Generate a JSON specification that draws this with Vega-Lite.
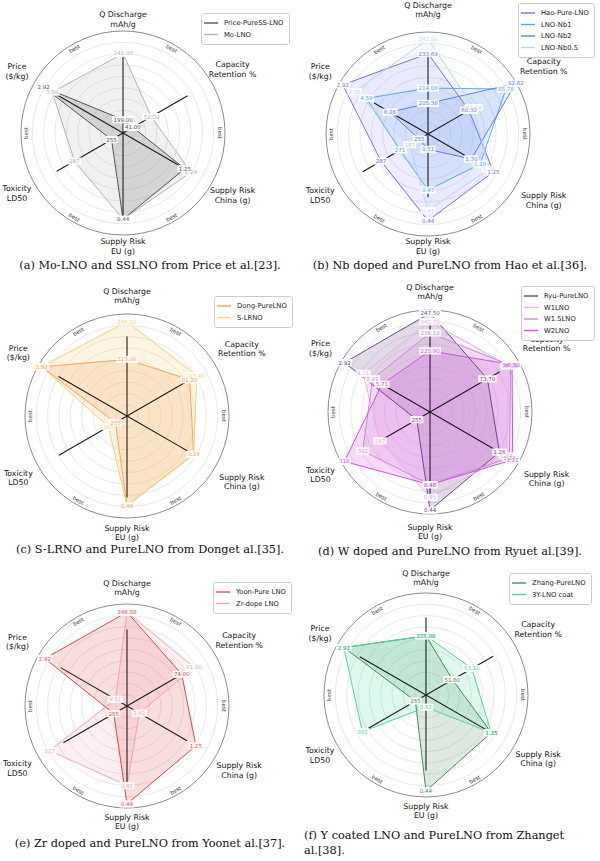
{
  "$schema": "https://vega.github.io/schema/vega-lite/v6.json",
  "background": "white",
  "padding": 0,
  "spacing": 11,
  "config": {
    "view": {"stroke": null},
    "text": {"font": "DejaVu Sans"},
    "title": {"font": "DejaVu Serif", "fontSize": 11.3, "fontWeight": "normal", "color": "#111111"},
    "legend": {"labelFont": "DejaVu Sans", "labelFontSize": 6.8, "labelColor": "#222222", "symbolType": "M-1.75,0H1.75", "symbolStrokeWidth": 1.4, "symbolSize": 64, "strokeColor": "#cccccc", "fillColor": "white", "padding": 5, "cornerRadius": 2, "rowPadding": 2.5, "labelOffset": 8}
  },
  "datasets": {
    "rings": [{"ring": 1}, {"ring": 2}, {"ring": 3}, {"ring": 4}, {"ring": 5}, {"ring": 6}, {"ring": 7}, {"ring": 8}],
    "outer": [{"ring": 9}],
    "bestpos": [{"pos": 30, "txt": "best"}, {"pos": 90, "txt": "best"}, {"pos": 150, "txt": "best"}, {"pos": 210, "txt": "best"}, {"pos": 270, "txt": "best"}, {"pos": 330, "txt": "best"}],
    "axes_a": [
      {"axis": "Q", "k": 0, "title": "Q Discharge\nmAh/g", "lo": 190.8, "hi": 253.9, "ref": 238.1},
      {"axis": "Cap", "k": 1, "title": "Capacity\nRetention %", "lo": 35.2, "hi": 87.6, "ref": 73.5},
      {"axis": "China", "k": 2, "title": "Supply Risk\nChina (g)", "lo": 1.35, "hi": 1.207, "ref": 1.25},
      {"axis": "EU", "k": 3, "title": "Supply Risk\nEU (g)", "lo": 0.55, "hi": 0.42, "ref": 0.443},
      {"axis": "Tox", "k": 4, "title": "Toxicity\nLD50", "lo": 245.1, "hi": 321.3, "ref": 302.3},
      {"axis": "Price", "k": 5, "title": "Price\n($/kg)", "lo": 9.04, "hi": 2.24, "ref": 3.94}
    ],
    "pts_a": [
      {"series": "Price-PureSS-LNO", "axis": "Q", "value": 199.0, "label": "199.00"},
      {"series": "Price-PureSS-LNO", "axis": "Cap", "value": 41.0, "label": "41.00"},
      {"series": "Price-PureSS-LNO", "axis": "China", "value": 1.25, "label": "1.25"},
      {"series": "Price-PureSS-LNO", "axis": "EU", "value": 0.44, "label": "0.44"},
      {"series": "Price-PureSS-LNO", "axis": "Tox", "value": 255, "label": "255"},
      {"series": "Price-PureSS-LNO", "axis": "Price", "value": 2.92, "label": "2.92"},
      {"series": "Mo-LNO", "axis": "Q", "value": 240.0, "label": "240.00"},
      {"series": "Mo-LNO", "axis": "Cap", "value": 52.0, "label": "52.00"},
      {"series": "Mo-LNO", "axis": "China", "value": 1.24, "label": "1.24"},
      {"series": "Mo-LNO", "axis": "EU", "value": 0.44, "label": "0.44"},
      {"series": "Mo-LNO", "axis": "Tox", "value": 287, "label": "287"},
      {"series": "Mo-LNO", "axis": "Price", "value": 3.60, "label": "3.60"}
    ],
    "axes_b": [
      {"axis": "Q", "k": 0, "title": "Q Discharge\nmAh/g", "lo": 188.0, "hi": 245.9, "ref": 233.7},
      {"axis": "Cap", "k": 1, "title": "Capacity\nRetention %", "lo": 32.0, "hi": 93.0, "ref": 57.0},
      {"axis": "China", "k": 2, "title": "Supply Risk\nChina (g)", "lo": 1.398, "hi": 1.198, "ref": 1.314},
      {"axis": "EU", "k": 3, "title": "Supply Risk\nEU (g)", "lo": 0.525, "hi": 0.425, "ref": 0.463},
      {"axis": "Tox", "k": 4, "title": "Toxicity\nLD50", "lo": 247.6, "hi": 321.7, "ref": 302.4},
      {"axis": "Price", "k": 5, "title": "Price\n($/kg)", "lo": 8.95, "hi": 2.70, "ref": 5.14}
    ],
    "pts_b": [
      {"series": "Hao-Pure-LNO", "axis": "Q", "value": 233.69, "label": "233.69"},
      {"series": "Hao-Pure-LNO", "axis": "Cap", "value": 60.30, "label": "60.30"},
      {"series": "Hao-Pure-LNO", "axis": "China", "value": 1.25, "label": "1.25"},
      {"series": "Hao-Pure-LNO", "axis": "EU", "value": 0.44, "label": "0.44"},
      {"series": "Hao-Pure-LNO", "axis": "Tox", "value": 287, "label": "287"},
      {"series": "Hao-Pure-LNO", "axis": "Price", "value": 2.92, "label": "2.92"},
      {"series": "LNO-Nb1", "axis": "Q", "value": 214.08, "label": "214.08"},
      {"series": "LNO-Nb1", "axis": "Cap", "value": 85.78, "label": "85.78"},
      {"series": "LNO-Nb1", "axis": "China", "value": 1.28, "label": "1.28"},
      {"series": "LNO-Nb1", "axis": "EU", "value": 0.47, "label": "0.47"},
      {"series": "LNO-Nb1", "axis": "Tox", "value": 271, "label": "271"},
      {"series": "LNO-Nb1", "axis": "Price", "value": 4.59, "label": "4.59"},
      {"series": "LNO-Nb2", "axis": "Q", "value": 205.38, "label": "205.38"},
      {"series": "LNO-Nb2", "axis": "Cap", "value": 92.62, "label": "92.62"},
      {"series": "LNO-Nb2", "axis": "China", "value": 1.30, "label": "1.30"},
      {"series": "LNO-Nb2", "axis": "EU", "value": 0.51, "label": "0.51"},
      {"series": "LNO-Nb2", "axis": "Tox", "value": 255, "label": "255"},
      {"series": "LNO-Nb2", "axis": "Price", "value": 6.26, "label": "6.26"},
      {"series": "LNO-Nb0.5", "axis": "Q", "value": 241.89, "label": "241.89"},
      {"series": "LNO-Nb0.5", "axis": "Cap", "value": 63.54, "label": "63.54"},
      {"series": "LNO-Nb0.5", "axis": "China", "value": 1.26, "label": "1.26"},
      {"series": "LNO-Nb0.5", "axis": "EU", "value": 0.45, "label": "0.45"},
      {"series": "LNO-Nb0.5", "axis": "Tox", "value": 263, "label": "263"},
      {"series": "LNO-Nb0.5", "axis": "Price", "value": 3.76, "label": "3.76"}
    ],
    "axes_c": [
      {"axis": "Q", "k": 0, "title": "Q Discharge\nmAh/g", "lo": 190.0, "hi": 249.5, "ref": 236.4},
      {"axis": "Cap", "k": 1, "title": "Capacity\nRetention %", "lo": 61.9, "hi": 89.1, "ref": 80.7},
      {"axis": "China", "k": 2, "title": "Supply Risk\nChina (g)", "lo": 1.40, "hi": 1.188, "ref": 1.254},
      {"axis": "EU", "k": 3, "title": "Supply Risk\nEU (g)", "lo": 0.55, "hi": 0.425, "ref": 0.45},
      {"axis": "Tox", "k": 4, "title": "Toxicity\nLD50", "lo": 245.2, "hi": 320.2, "ref": 303.0},
      {"axis": "Price", "k": 5, "title": "Price\n($/kg)", "lo": 8.95, "hi": 2.70, "ref": 4.11}
    ],
    "pts_c": [
      {"series": "Dong-PureLNO", "axis": "Q", "value": 223.0, "label": "223.00"},
      {"series": "Dong-PureLNO", "axis": "Cap", "value": 81.20, "label": "81.20"},
      {"series": "Dong-PureLNO", "axis": "China", "value": 1.24, "label": "1.24"},
      {"series": "Dong-PureLNO", "axis": "EU", "value": 0.44, "label": "0.44"},
      {"series": "Dong-PureLNO", "axis": "Tox", "value": 255, "label": "255"},
      {"series": "Dong-PureLNO", "axis": "Price", "value": 2.92, "label": "2.92"},
      {"series": "S-LRNO", "axis": "Q", "value": 245.0, "label": "245.00"},
      {"series": "S-LRNO", "axis": "Cap", "value": 83.40, "label": "83.40"},
      {"series": "S-LRNO", "axis": "China", "value": 1.24, "label": "1.24"},
      {"series": "S-LRNO", "axis": "EU", "value": 0.44, "label": "0.44"},
      {"series": "S-LRNO", "axis": "Tox", "value": 261, "label": "261"},
      {"series": "S-LRNO", "axis": "Price", "value": 2.90, "label": "2.90"}
    ],
    "axes_d": [
      {"axis": "Q", "k": 0, "title": "Q Discharge\nmAh/g", "lo": 190.9, "hi": 249.3, "ref": 240.5},
      {"axis": "Cap", "k": 1, "title": "Capacity\nRetention %", "lo": 23.1, "hi": 101.0, "ref": 84.6},
      {"axis": "China", "k": 2, "title": "Supply Risk\nChina (g)", "lo": 1.47, "hi": 1.203, "ref": 1.278},
      {"axis": "EU", "k": 3, "title": "Supply Risk\nEU (g)", "lo": 0.517, "hi": 0.437, "ref": 0.447},
      {"axis": "Tox", "k": 4, "title": "Toxicity\nLD50", "lo": 243.5, "hi": 320.3, "ref": 288.0},
      {"axis": "Price", "k": 5, "title": "Price\n($/kg)", "lo": 9.29, "hi": 2.71, "ref": 5.67}
    ],
    "pts_d": [
      {"series": "Ryu-PureLNO", "axis": "Q", "value": 247.50, "label": "247.50"},
      {"series": "Ryu-PureLNO", "axis": "Cap", "value": 73.70, "label": "73.70"},
      {"series": "Ryu-PureLNO", "axis": "China", "value": 1.26, "label": "1.26"},
      {"series": "Ryu-PureLNO", "axis": "EU", "value": 0.44, "label": "0.44"},
      {"series": "Ryu-PureLNO", "axis": "Tox", "value": 255, "label": "255"},
      {"series": "Ryu-PureLNO", "axis": "Price", "value": 2.92, "label": "2.92"},
      {"series": "W1LNO", "axis": "Q", "value": 242.70, "label": "242.70"},
      {"series": "W1LNO", "axis": "Cap", "value": 93.10, "label": "93.10"},
      {"series": "W1LNO", "axis": "China", "value": 1.24, "label": "1.24"},
      {"series": "W1LNO", "axis": "EU", "value": 0.45, "label": "0.45"},
      {"series": "W1LNO", "axis": "Tox", "value": 287, "label": "287"},
      {"series": "W1LNO", "axis": "Price", "value": 4.31, "label": "4.31"},
      {"series": "W1.5LNO", "axis": "Q", "value": 236.10, "label": "236.10"},
      {"series": "W1.5LNO", "axis": "Cap", "value": 94.30, "label": "94.30"},
      {"series": "W1.5LNO", "axis": "China", "value": 1.23, "label": "1.23"},
      {"series": "W1.5LNO", "axis": "EU", "value": 0.46, "label": "0.46"},
      {"series": "W1.5LNO", "axis": "Tox", "value": 302, "label": "302"},
      {"series": "W1.5LNO", "axis": "Price", "value": 5.01, "label": "5.01"},
      {"series": "W2LNO", "axis": "Q", "value": 225.90, "label": "225.90"},
      {"series": "W2LNO", "axis": "Cap", "value": 95.50, "label": "95.50"},
      {"series": "W2LNO", "axis": "China", "value": 1.22, "label": "1.22"},
      {"series": "W2LNO", "axis": "EU", "value": 0.46, "label": "0.46"},
      {"series": "W2LNO", "axis": "Tox", "value": 318, "label": "318"},
      {"series": "W2LNO", "axis": "Price", "value": 5.71, "label": "5.71"}
    ],
    "axes_e": [
      {"axis": "Q", "k": 0, "title": "Q Discharge\nmAh/g", "lo": 190.0, "hi": 251.4, "ref": 236.0},
      {"axis": "Cap", "k": 1, "title": "Capacity\nRetention %", "lo": 43.0, "hi": 93.0, "ref": 76.0},
      {"axis": "China", "k": 2, "title": "Supply Risk\nChina (g)", "lo": 1.445, "hi": 1.195, "ref": 1.275},
      {"axis": "EU", "k": 3, "title": "Supply Risk\nEU (g)", "lo": 0.4933, "hi": 0.4378, "ref": 0.45},
      {"axis": "Tox", "k": 4, "title": "Toxicity\nLD50", "lo": 242.2, "hi": 327.7, "ref": 303.8},
      {"axis": "Price", "k": 5, "title": "Price\n($/kg)", "lo": 10.12, "hi": 2.38, "ref": 4.3}
    ],
    "pts_e": [
      {"series": "Yoon-Pure LNO", "axis": "Q", "value": 246.50, "label": "246.50"},
      {"series": "Yoon-Pure LNO", "axis": "Cap", "value": 74.00, "label": "74.00"},
      {"series": "Yoon-Pure LNO", "axis": "China", "value": 1.25, "label": "1.25"},
      {"series": "Yoon-Pure LNO", "axis": "EU", "value": 0.44, "label": "0.44"},
      {"series": "Yoon-Pure LNO", "axis": "Tox", "value": 255, "label": "255"},
      {"series": "Yoon-Pure LNO", "axis": "Price", "value": 2.92, "label": "2.92"},
      {"series": "Zr-dope LNO", "axis": "Q", "value": 246.50, "label": "246.50"},
      {"series": "Zr-dope LNO", "axis": "Cap", "value": 81.00, "label": "81.00"},
      {"series": "Zr-dope LNO", "axis": "China", "value": 1.41, "label": "1.41"},
      {"series": "Zr-dope LNO", "axis": "EU", "value": 0.45, "label": "0.45"},
      {"series": "Zr-dope LNO", "axis": "Tox", "value": 317, "label": "317"},
      {"series": "Zr-dope LNO", "axis": "Price", "value": 9.11, "label": "9.11"}
    ],
    "axes_f": [
      {"axis": "Q", "k": 0, "title": "Q Discharge\nmAh/g", "lo": 190.0, "hi": 250.3, "ref": 235.8},
      {"axis": "Cap", "k": 1, "title": "Capacity\nRetention %", "lo": 36.4, "hi": 87.8, "ref": 75.5},
      {"axis": "China", "k": 2, "title": "Supply Risk\nChina (g)", "lo": 1.40, "hi": 1.197, "ref": 1.258},
      {"axis": "EU", "k": 3, "title": "Supply Risk\nEU (g)", "lo": 0.5317, "hi": 0.4342, "ref": 0.4596},
      {"axis": "Tox", "k": 4, "title": "Toxicity\nLD50", "lo": 245.8, "hi": 322.5, "ref": 295.7},
      {"axis": "Price", "k": 5, "title": "Price\n($/kg)", "lo": 9.0, "hi": 2.45, "ref": 4.09}
    ],
    "pts_f": [
      {"series": "Zhang-PureLNO", "axis": "Q", "value": 225.00, "label": "225.00"},
      {"series": "Zhang-PureLNO", "axis": "Cap", "value": 51.80, "label": "51.80"},
      {"series": "Zhang-PureLNO", "axis": "China", "value": 1.25, "label": "1.25"},
      {"series": "Zhang-PureLNO", "axis": "EU", "value": 0.44, "label": "0.44"},
      {"series": "Zhang-PureLNO", "axis": "Tox", "value": 255, "label": "255"},
      {"series": "Zhang-PureLNO", "axis": "Price", "value": 2.92, "label": "2.92"},
      {"series": "3Y-LNO coat", "axis": "Q", "value": 225.00, "label": "225.00"},
      {"series": "3Y-LNO coat", "axis": "Cap", "value": 63.10, "label": "63.10"},
      {"series": "3Y-LNO coat", "axis": "China", "value": 1.25, "label": "1.25"},
      {"series": "3Y-LNO coat", "axis": "EU", "value": 0.52, "label": "0.52"},
      {"series": "3Y-LNO coat", "axis": "Tox", "value": 301, "label": "301"},
      {"series": "3Y-LNO coat", "axis": "Price", "value": 2.91, "label": "2.91"}
    ]
  },
  "resolve": {"scale": {"color": "independent"}, "legend": {"color": "independent"}},
  "vconcat": [
    {
      "spacing": 0,
      "resolve": {"scale": {"color": "independent"}, "legend": {"color": "independent"}},
      "hconcat": [
        {
          "width": 300, "height": 255,
          "title": {"text": "(a) Mo-LNO and SSLNO from Price et al.[23].", "orient": "bottom", "anchor": "middle", "offset": 4},
          "layer": [
            {"data": {"name": "rings"}, "mark": {"type": "point", "shape": "circle", "filled": false, "color": "#dedede", "strokeWidth": 0.7, "opacity": 1},
             "encoding": {"x": {"datum": 0, "type": "quantitative", "scale": {"domain": [-1.206, 1.735], "nice": false, "zero": false}, "axis": null}, "y": {"datum": 0, "type": "quantitative", "scale": {"domain": [-1.196, 1.304], "nice": false, "zero": false}, "axis": null}, "size": {"field": "ring", "type": "quantitative", "scale": {"type": "pow", "exponent": 2, "domain": [0, 9], "range": [0, 41616]}, "legend": null}}},
            {"data": {"name": "outer"}, "mark": {"type": "point", "shape": "circle", "filled": false, "color": "#8c8c8c", "strokeWidth": 1, "opacity": 1},
             "encoding": {"x": {"datum": 0, "type": "quantitative", "scale": {"domain": [-1.206, 1.735], "nice": false, "zero": false}, "axis": null}, "y": {"datum": 0, "type": "quantitative", "scale": {"domain": [-1.196, 1.304], "nice": false, "zero": false}, "axis": null}, "size": {"field": "ring", "type": "quantitative", "scale": {"type": "pow", "exponent": 2, "domain": [0, 9], "range": [0, 41616]}, "legend": null}}},
            {"data": {"name": "pts_a"},
             "transform": [{"lookup": "axis", "from": {"data": {"name": "axes_a"}, "key": "axis", "fields": ["k", "lo", "hi"]}}, {"calculate": "(datum.value - datum.lo) / (datum.hi - datum.lo)", "as": "r"}, {"calculate": "datum.r * sin(datum.k * PI / 3)", "as": "px"}, {"calculate": "datum.r * cos(datum.k * PI / 3)", "as": "py"}],
             "mark": {"type": "line", "interpolate": "linear-closed", "filled": true, "fillOpacity": 0.2, "strokeWidth": 0},
             "encoding": {"x": {"field": "px", "type": "quantitative", "scale": {"domain": [-1.206, 1.735], "nice": false, "zero": false}, "axis": null}, "y": {"field": "py", "type": "quantitative", "scale": {"domain": [-1.196, 1.304], "nice": false, "zero": false}, "axis": null}, "order": {"field": "k", "type": "quantitative"}, "color": {"field": "series", "type": "nominal", "scale": {"domain": ["Price-PureSS-LNO", "Mo-LNO"], "range": ["#555555", "#b3b3b3"]}, "legend": {"title": null, "orient": "none", "legendX": 201, "legendY": 13}}}},
            {"data": {"name": "pts_a"},
             "transform": [{"lookup": "axis", "from": {"data": {"name": "axes_a"}, "key": "axis", "fields": ["k", "lo", "hi"]}}, {"calculate": "(datum.value - datum.lo) / (datum.hi - datum.lo)", "as": "r"}, {"calculate": "datum.r * sin(datum.k * PI / 3)", "as": "px"}, {"calculate": "datum.r * cos(datum.k * PI / 3)", "as": "py"}],
             "mark": {"type": "line", "interpolate": "linear-closed", "strokeWidth": 1},
             "encoding": {"x": {"field": "px", "type": "quantitative", "scale": {"domain": [-1.206, 1.735], "nice": false, "zero": false}, "axis": null}, "y": {"field": "py", "type": "quantitative", "scale": {"domain": [-1.196, 1.304], "nice": false, "zero": false}, "axis": null}, "order": {"field": "k", "type": "quantitative"}, "color": {"field": "series", "type": "nominal", "scale": {"domain": ["Price-PureSS-LNO", "Mo-LNO"], "range": ["#555555", "#b3b3b3"]}, "legend": {"title": null, "orient": "none", "legendX": 201, "legendY": 13}}}},
            {"data": {"name": "axes_a"},
             "transform": [{"calculate": "(datum.ref - datum.lo) / (datum.hi - datum.lo)", "as": "r"}, {"calculate": "datum.r * sin(datum.k * PI / 3)", "as": "ex"}, {"calculate": "datum.r * cos(datum.k * PI / 3)", "as": "ey"}, {"calculate": "0", "as": "o"}],
             "mark": {"type": "rule", "color": "#1e1e1e", "strokeWidth": 1.1},
             "encoding": {"x": {"field": "o", "type": "quantitative", "scale": {"domain": [-1.206, 1.735], "nice": false, "zero": false}, "axis": null}, "y": {"field": "o", "type": "quantitative", "scale": {"domain": [-1.196, 1.304], "nice": false, "zero": false}, "axis": null}, "x2": {"field": "ex"}, "y2": {"field": "ey"}}},
            {"data": {"name": "pts_a"},
             "transform": [{"lookup": "axis", "from": {"data": {"name": "axes_a"}, "key": "axis", "fields": ["k", "lo", "hi"]}}, {"calculate": "(datum.value - datum.lo) / (datum.hi - datum.lo)", "as": "r"}, {"calculate": "datum.r * sin(datum.k * PI / 3)", "as": "px"}, {"calculate": "datum.r * cos(datum.k * PI / 3)", "as": "py"}, {"calculate": "length(datum.label)", "as": "n"}],
             "mark": {"type": "point", "filled": true, "color": "white", "opacity": 0.92, "size": 256, "strokeWidth": 0},
             "encoding": {"x": {"field": "px", "type": "quantitative", "scale": {"domain": [-1.206, 1.735], "nice": false, "zero": false}, "axis": null}, "y": {"field": "py", "type": "quantitative", "scale": {"domain": [-1.196, 1.304], "nice": false, "zero": false}, "axis": null}, "shape": {"field": "n", "type": "nominal", "scale": {"domain": [3, 4, 5, 6], "range": ["M-0.82,-0.45H0.82V0.45H-0.82Z", "M-0.93,-0.45H0.93V0.45H-0.93Z", "M-1.15,-0.45H1.15V0.45H-1.15Z", "M-1.37,-0.45H1.37V0.45H-1.37Z"]}, "legend": null}}},
            {"data": {"name": "pts_a"},
             "transform": [{"lookup": "axis", "from": {"data": {"name": "axes_a"}, "key": "axis", "fields": ["k", "lo", "hi"]}}, {"calculate": "(datum.value - datum.lo) / (datum.hi - datum.lo)", "as": "r"}, {"calculate": "datum.r * sin(datum.k * PI / 3)", "as": "px"}, {"calculate": "datum.r * cos(datum.k * PI / 3)", "as": "py"}],
             "mark": {"type": "text", "fontSize": 5.5, "baseline": "middle", "align": "center"},
             "encoding": {"x": {"field": "px", "type": "quantitative", "scale": {"domain": [-1.206, 1.735], "nice": false, "zero": false}, "axis": null}, "y": {"field": "py", "type": "quantitative", "scale": {"domain": [-1.196, 1.304], "nice": false, "zero": false}, "axis": null}, "text": {"field": "label"}, "color": {"field": "series", "type": "nominal", "scale": {"domain": ["Price-PureSS-LNO", "Mo-LNO"], "range": ["#555555", "#b3b3b3"]}, "legend": {"title": null, "orient": "none", "legendX": 201, "legendY": 13}}}},
            {"data": {"name": "bestpos"},
             "transform": [{"calculate": "0.955 * sin(datum.pos * PI / 180)", "as": "bx"}, {"calculate": "0.955 * cos(datum.pos * PI / 180)", "as": "by"}, {"calculate": "datum.pos > 90 && datum.pos < 270 ? datum.pos - 180 : datum.pos", "as": "rot"}],
             "mark": {"type": "text", "fontSize": 5.5, "color": "#333333", "baseline": "middle", "align": "center"},
             "encoding": {"x": {"field": "bx", "type": "quantitative", "scale": {"domain": [-1.206, 1.735], "nice": false, "zero": false}, "axis": null}, "y": {"field": "by", "type": "quantitative", "scale": {"domain": [-1.196, 1.304], "nice": false, "zero": false}, "axis": null}, "text": {"field": "txt"}, "angle": {"field": "rot", "type": "quantitative", "scale": null}}},
            {"data": {"name": "axes_a"},
             "transform": [{"calculate": "datum.k == 0 ? 1.11 : (datum.k == 3 ? 1.12 : (datum.k < 3 ? 1.24 : 1.2))", "as": "rt"}, {"calculate": "datum.rt * sin(datum.k * PI / 3)", "as": "tx"}, {"calculate": "datum.rt * cos(datum.k * PI / 3)", "as": "ty"}],
             "mark": {"type": "text", "fontSize": 7.8, "lineBreak": "\n", "lineHeight": 9.5, "dy": -4.75, "baseline": "middle", "align": "center", "color": "#111111"},
             "encoding": {"x": {"field": "tx", "type": "quantitative", "scale": {"domain": [-1.206, 1.735], "nice": false, "zero": false}, "axis": null}, "y": {"field": "ty", "type": "quantitative", "scale": {"domain": [-1.196, 1.304], "nice": false, "zero": false}, "axis": null}, "text": {"field": "title"}}}
          ]
        },
        {
          "width": 300, "height": 255,
          "title": {"text": "(b) Nb doped and PureLNO from Hao et al.[36].", "orient": "bottom", "anchor": "middle", "offset": 4},
          "layer": [
            {"data": {"name": "rings"}, "mark": {"type": "point", "shape": "circle", "filled": false, "color": "#dedede", "strokeWidth": 0.7, "opacity": 1},
             "encoding": {"x": {"datum": 0, "type": "quantitative", "scale": {"domain": [-1.255, 1.686], "nice": false, "zero": false}, "axis": null}, "y": {"datum": 0, "type": "quantitative", "scale": {"domain": [-1.186, 1.314], "nice": false, "zero": false}, "axis": null}, "size": {"field": "ring", "type": "quantitative", "scale": {"type": "pow", "exponent": 2, "domain": [0, 9], "range": [0, 41616]}, "legend": null}}},
            {"data": {"name": "outer"}, "mark": {"type": "point", "shape": "circle", "filled": false, "color": "#8c8c8c", "strokeWidth": 1, "opacity": 1},
             "encoding": {"x": {"datum": 0, "type": "quantitative", "scale": {"domain": [-1.255, 1.686], "nice": false, "zero": false}, "axis": null}, "y": {"datum": 0, "type": "quantitative", "scale": {"domain": [-1.186, 1.314], "nice": false, "zero": false}, "axis": null}, "size": {"field": "ring", "type": "quantitative", "scale": {"type": "pow", "exponent": 2, "domain": [0, 9], "range": [0, 41616]}, "legend": null}}},
            {"data": {"name": "pts_b"},
             "transform": [{"lookup": "axis", "from": {"data": {"name": "axes_b"}, "key": "axis", "fields": ["k", "lo", "hi"]}}, {"calculate": "(datum.value - datum.lo) / (datum.hi - datum.lo)", "as": "r"}, {"calculate": "datum.r * sin(datum.k * PI / 3)", "as": "px"}, {"calculate": "datum.r * cos(datum.k * PI / 3)", "as": "py"}],
             "mark": {"type": "line", "interpolate": "linear-closed", "filled": true, "fillOpacity": 0.13, "strokeWidth": 0},
             "encoding": {"x": {"field": "px", "type": "quantitative", "scale": {"domain": [-1.255, 1.686], "nice": false, "zero": false}, "axis": null}, "y": {"field": "py", "type": "quantitative", "scale": {"domain": [-1.186, 1.314], "nice": false, "zero": false}, "axis": null}, "order": {"field": "k", "type": "quantitative"}, "color": {"field": "series", "type": "nominal", "scale": {"domain": ["Hao-Pure-LNO", "LNO-Nb1", "LNO-Nb2", "LNO-Nb0.5"], "range": ["#7b6cf0", "#58aaf5", "#5b7ef2", "#b9d7f5"]}, "legend": {"title": null, "orient": "none", "legendX": 218, "legendY": 3}}}},
            {"data": {"name": "pts_b"},
             "transform": [{"lookup": "axis", "from": {"data": {"name": "axes_b"}, "key": "axis", "fields": ["k", "lo", "hi"]}}, {"calculate": "(datum.value - datum.lo) / (datum.hi - datum.lo)", "as": "r"}, {"calculate": "datum.r * sin(datum.k * PI / 3)", "as": "px"}, {"calculate": "datum.r * cos(datum.k * PI / 3)", "as": "py"}],
             "mark": {"type": "line", "interpolate": "linear-closed", "strokeWidth": 1},
             "encoding": {"x": {"field": "px", "type": "quantitative", "scale": {"domain": [-1.255, 1.686], "nice": false, "zero": false}, "axis": null}, "y": {"field": "py", "type": "quantitative", "scale": {"domain": [-1.186, 1.314], "nice": false, "zero": false}, "axis": null}, "order": {"field": "k", "type": "quantitative"}, "color": {"field": "series", "type": "nominal", "scale": {"domain": ["Hao-Pure-LNO", "LNO-Nb1", "LNO-Nb2", "LNO-Nb0.5"], "range": ["#7b6cf0", "#58aaf5", "#5b7ef2", "#b9d7f5"]}, "legend": {"title": null, "orient": "none", "legendX": 218, "legendY": 3}}}},
            {"data": {"name": "axes_b"},
             "transform": [{"calculate": "(datum.ref - datum.lo) / (datum.hi - datum.lo)", "as": "r"}, {"calculate": "datum.r * sin(datum.k * PI / 3)", "as": "ex"}, {"calculate": "datum.r * cos(datum.k * PI / 3)", "as": "ey"}, {"calculate": "0", "as": "o"}],
             "mark": {"type": "rule", "color": "#1e1e1e", "strokeWidth": 1.1},
             "encoding": {"x": {"field": "o", "type": "quantitative", "scale": {"domain": [-1.255, 1.686], "nice": false, "zero": false}, "axis": null}, "y": {"field": "o", "type": "quantitative", "scale": {"domain": [-1.186, 1.314], "nice": false, "zero": false}, "axis": null}, "x2": {"field": "ex"}, "y2": {"field": "ey"}}},
            {"data": {"name": "pts_b"},
             "transform": [{"lookup": "axis", "from": {"data": {"name": "axes_b"}, "key": "axis", "fields": ["k", "lo", "hi"]}}, {"calculate": "(datum.value - datum.lo) / (datum.hi - datum.lo)", "as": "r"}, {"calculate": "datum.r * sin(datum.k * PI / 3)", "as": "px"}, {"calculate": "datum.r * cos(datum.k * PI / 3)", "as": "py"}, {"calculate": "length(datum.label)", "as": "n"}],
             "mark": {"type": "point", "filled": true, "color": "white", "opacity": 0.92, "size": 256, "strokeWidth": 0},
             "encoding": {"x": {"field": "px", "type": "quantitative", "scale": {"domain": [-1.255, 1.686], "nice": false, "zero": false}, "axis": null}, "y": {"field": "py", "type": "quantitative", "scale": {"domain": [-1.186, 1.314], "nice": false, "zero": false}, "axis": null}, "shape": {"field": "n", "type": "nominal", "scale": {"domain": [3, 4, 5, 6], "range": ["M-0.82,-0.45H0.82V0.45H-0.82Z", "M-0.93,-0.45H0.93V0.45H-0.93Z", "M-1.15,-0.45H1.15V0.45H-1.15Z", "M-1.37,-0.45H1.37V0.45H-1.37Z"]}, "legend": null}}},
            {"data": {"name": "pts_b"},
             "transform": [{"lookup": "axis", "from": {"data": {"name": "axes_b"}, "key": "axis", "fields": ["k", "lo", "hi"]}}, {"calculate": "(datum.value - datum.lo) / (datum.hi - datum.lo)", "as": "r"}, {"calculate": "datum.r * sin(datum.k * PI / 3)", "as": "px"}, {"calculate": "datum.r * cos(datum.k * PI / 3)", "as": "py"}],
             "mark": {"type": "text", "fontSize": 5.5, "baseline": "middle", "align": "center"},
             "encoding": {"x": {"field": "px", "type": "quantitative", "scale": {"domain": [-1.255, 1.686], "nice": false, "zero": false}, "axis": null}, "y": {"field": "py", "type": "quantitative", "scale": {"domain": [-1.186, 1.314], "nice": false, "zero": false}, "axis": null}, "text": {"field": "label"}, "color": {"field": "series", "type": "nominal", "scale": {"domain": ["Hao-Pure-LNO", "LNO-Nb1", "LNO-Nb2", "LNO-Nb0.5"], "range": ["#7b6cf0", "#58aaf5", "#5b7ef2", "#b9d7f5"]}, "legend": {"title": null, "orient": "none", "legendX": 218, "legendY": 3}}}},
            {"data": {"name": "bestpos"},
             "transform": [{"calculate": "0.955 * sin(datum.pos * PI / 180)", "as": "bx"}, {"calculate": "0.955 * cos(datum.pos * PI / 180)", "as": "by"}, {"calculate": "datum.pos > 90 && datum.pos < 270 ? datum.pos - 180 : datum.pos", "as": "rot"}],
             "mark": {"type": "text", "fontSize": 5.5, "color": "#333333", "baseline": "middle", "align": "center"},
             "encoding": {"x": {"field": "bx", "type": "quantitative", "scale": {"domain": [-1.255, 1.686], "nice": false, "zero": false}, "axis": null}, "y": {"field": "by", "type": "quantitative", "scale": {"domain": [-1.186, 1.314], "nice": false, "zero": false}, "axis": null}, "text": {"field": "txt"}, "angle": {"field": "rot", "type": "quantitative", "scale": null}}},
            {"data": {"name": "axes_b"},
             "transform": [{"calculate": "datum.k == 0 ? 1.21 : (datum.k == 3 ? 1.11 : (datum.k < 3 ? 1.31 : 1.22))", "as": "rt"}, {"calculate": "datum.rt * sin(datum.k * PI / 3)", "as": "tx"}, {"calculate": "datum.rt * cos(datum.k * PI / 3)", "as": "ty"}],
             "mark": {"type": "text", "fontSize": 7.8, "lineBreak": "\n", "lineHeight": 9.5, "dy": -4.75, "baseline": "middle", "align": "center", "color": "#111111"},
             "encoding": {"x": {"field": "tx", "type": "quantitative", "scale": {"domain": [-1.255, 1.686], "nice": false, "zero": false}, "axis": null}, "y": {"field": "ty", "type": "quantitative", "scale": {"domain": [-1.186, 1.314], "nice": false, "zero": false}, "axis": null}, "text": {"field": "title"}}}
          ]
        }
      ]
    },
    {
      "spacing": 0,
      "resolve": {"scale": {"color": "independent"}, "legend": {"color": "independent"}},
      "hconcat": [
        {
          "width": 300, "height": 255,
          "title": {"text": "(c) S-LRNO and PureLNO from Donget al.[35].", "orient": "bottom", "anchor": "middle", "offset": 2},
          "layer": [
            {"data": {"name": "rings"}, "mark": {"type": "point", "shape": "circle", "filled": false, "color": "#dedede", "strokeWidth": 0.7, "opacity": 1},
             "encoding": {"x": {"datum": 0, "type": "quantitative", "scale": {"domain": [-1.245, 1.696], "nice": false, "zero": false}, "axis": null}, "y": {"datum": 0, "type": "quantitative", "scale": {"domain": [-1.206, 1.294], "nice": false, "zero": false}, "axis": null}, "size": {"field": "ring", "type": "quantitative", "scale": {"type": "pow", "exponent": 2, "domain": [0, 9], "range": [0, 41616]}, "legend": null}}},
            {"data": {"name": "outer"}, "mark": {"type": "point", "shape": "circle", "filled": false, "color": "#8c8c8c", "strokeWidth": 1, "opacity": 1},
             "encoding": {"x": {"datum": 0, "type": "quantitative", "scale": {"domain": [-1.245, 1.696], "nice": false, "zero": false}, "axis": null}, "y": {"datum": 0, "type": "quantitative", "scale": {"domain": [-1.206, 1.294], "nice": false, "zero": false}, "axis": null}, "size": {"field": "ring", "type": "quantitative", "scale": {"type": "pow", "exponent": 2, "domain": [0, 9], "range": [0, 41616]}, "legend": null}}},
            {"data": {"name": "pts_c"},
             "transform": [{"lookup": "axis", "from": {"data": {"name": "axes_c"}, "key": "axis", "fields": ["k", "lo", "hi"]}}, {"calculate": "(datum.value - datum.lo) / (datum.hi - datum.lo)", "as": "r"}, {"calculate": "datum.r * sin(datum.k * PI / 3)", "as": "px"}, {"calculate": "datum.r * cos(datum.k * PI / 3)", "as": "py"}],
             "mark": {"type": "line", "interpolate": "linear-closed", "filled": true, "fillOpacity": 0.22, "strokeWidth": 0},
             "encoding": {"x": {"field": "px", "type": "quantitative", "scale": {"domain": [-1.245, 1.696], "nice": false, "zero": false}, "axis": null}, "y": {"field": "py", "type": "quantitative", "scale": {"domain": [-1.206, 1.294], "nice": false, "zero": false}, "axis": null}, "order": {"field": "k", "type": "quantitative"}, "color": {"field": "series", "type": "nominal", "scale": {"domain": ["Dong-PureLNO", "S-LRNO"], "range": ["#f5a25a", "#f4cf78"]}, "legend": {"title": null, "orient": "none", "legendX": 214, "legendY": 12}}}},
            {"data": {"name": "pts_c"},
             "transform": [{"lookup": "axis", "from": {"data": {"name": "axes_c"}, "key": "axis", "fields": ["k", "lo", "hi"]}}, {"calculate": "(datum.value - datum.lo) / (datum.hi - datum.lo)", "as": "r"}, {"calculate": "datum.r * sin(datum.k * PI / 3)", "as": "px"}, {"calculate": "datum.r * cos(datum.k * PI / 3)", "as": "py"}],
             "mark": {"type": "line", "interpolate": "linear-closed", "strokeWidth": 1},
             "encoding": {"x": {"field": "px", "type": "quantitative", "scale": {"domain": [-1.245, 1.696], "nice": false, "zero": false}, "axis": null}, "y": {"field": "py", "type": "quantitative", "scale": {"domain": [-1.206, 1.294], "nice": false, "zero": false}, "axis": null}, "order": {"field": "k", "type": "quantitative"}, "color": {"field": "series", "type": "nominal", "scale": {"domain": ["Dong-PureLNO", "S-LRNO"], "range": ["#f5a25a", "#f4cf78"]}, "legend": {"title": null, "orient": "none", "legendX": 214, "legendY": 12}}}},
            {"data": {"name": "axes_c"},
             "transform": [{"calculate": "(datum.ref - datum.lo) / (datum.hi - datum.lo)", "as": "r"}, {"calculate": "datum.r * sin(datum.k * PI / 3)", "as": "ex"}, {"calculate": "datum.r * cos(datum.k * PI / 3)", "as": "ey"}, {"calculate": "0", "as": "o"}],
             "mark": {"type": "rule", "color": "#1e1e1e", "strokeWidth": 1.1},
             "encoding": {"x": {"field": "o", "type": "quantitative", "scale": {"domain": [-1.245, 1.696], "nice": false, "zero": false}, "axis": null}, "y": {"field": "o", "type": "quantitative", "scale": {"domain": [-1.206, 1.294], "nice": false, "zero": false}, "axis": null}, "x2": {"field": "ex"}, "y2": {"field": "ey"}}},
            {"data": {"name": "pts_c"},
             "transform": [{"lookup": "axis", "from": {"data": {"name": "axes_c"}, "key": "axis", "fields": ["k", "lo", "hi"]}}, {"calculate": "(datum.value - datum.lo) / (datum.hi - datum.lo)", "as": "r"}, {"calculate": "datum.r * sin(datum.k * PI / 3)", "as": "px"}, {"calculate": "datum.r * cos(datum.k * PI / 3)", "as": "py"}, {"calculate": "length(datum.label)", "as": "n"}],
             "mark": {"type": "point", "filled": true, "color": "white", "opacity": 0.92, "size": 256, "strokeWidth": 0},
             "encoding": {"x": {"field": "px", "type": "quantitative", "scale": {"domain": [-1.245, 1.696], "nice": false, "zero": false}, "axis": null}, "y": {"field": "py", "type": "quantitative", "scale": {"domain": [-1.206, 1.294], "nice": false, "zero": false}, "axis": null}, "shape": {"field": "n", "type": "nominal", "scale": {"domain": [3, 4, 5, 6], "range": ["M-0.82,-0.45H0.82V0.45H-0.82Z", "M-0.93,-0.45H0.93V0.45H-0.93Z", "M-1.15,-0.45H1.15V0.45H-1.15Z", "M-1.37,-0.45H1.37V0.45H-1.37Z"]}, "legend": null}}},
            {"data": {"name": "pts_c"},
             "transform": [{"lookup": "axis", "from": {"data": {"name": "axes_c"}, "key": "axis", "fields": ["k", "lo", "hi"]}}, {"calculate": "(datum.value - datum.lo) / (datum.hi - datum.lo)", "as": "r"}, {"calculate": "datum.r * sin(datum.k * PI / 3)", "as": "px"}, {"calculate": "datum.r * cos(datum.k * PI / 3)", "as": "py"}],
             "mark": {"type": "text", "fontSize": 5.5, "baseline": "middle", "align": "center"},
             "encoding": {"x": {"field": "px", "type": "quantitative", "scale": {"domain": [-1.245, 1.696], "nice": false, "zero": false}, "axis": null}, "y": {"field": "py", "type": "quantitative", "scale": {"domain": [-1.206, 1.294], "nice": false, "zero": false}, "axis": null}, "text": {"field": "label"}, "color": {"field": "series", "type": "nominal", "scale": {"domain": ["Dong-PureLNO", "S-LRNO"], "range": ["#f5a25a", "#f4cf78"]}, "legend": {"title": null, "orient": "none", "legendX": 214, "legendY": 12}}}},
            {"data": {"name": "bestpos"},
             "transform": [{"calculate": "0.955 * sin(datum.pos * PI / 180)", "as": "bx"}, {"calculate": "0.955 * cos(datum.pos * PI / 180)", "as": "by"}, {"calculate": "datum.pos > 90 && datum.pos < 270 ? datum.pos - 180 : datum.pos", "as": "rot"}],
             "mark": {"type": "text", "fontSize": 5.5, "color": "#333333", "baseline": "middle", "align": "center"},
             "encoding": {"x": {"field": "bx", "type": "quantitative", "scale": {"domain": [-1.245, 1.696], "nice": false, "zero": false}, "axis": null}, "y": {"field": "by", "type": "quantitative", "scale": {"domain": [-1.206, 1.294], "nice": false, "zero": false}, "axis": null}, "text": {"field": "txt"}, "angle": {"field": "rot", "type": "quantitative", "scale": null}}},
            {"data": {"name": "axes_c"},
             "transform": [{"calculate": "datum.k == 0 ? 1.17 : (datum.k == 3 ? 1.15 : (datum.k < 3 ? 1.3 : 1.23))", "as": "rt"}, {"calculate": "datum.rt * sin(datum.k * PI / 3)", "as": "tx"}, {"calculate": "datum.rt * cos(datum.k * PI / 3)", "as": "ty"}],
             "mark": {"type": "text", "fontSize": 7.8, "lineBreak": "\n", "lineHeight": 9.5, "dy": -4.75, "baseline": "middle", "align": "center", "color": "#111111"},
             "encoding": {"x": {"field": "tx", "type": "quantitative", "scale": {"domain": [-1.245, 1.696], "nice": false, "zero": false}, "axis": null}, "y": {"field": "ty", "type": "quantitative", "scale": {"domain": [-1.206, 1.294], "nice": false, "zero": false}, "axis": null}, "text": {"field": "title"}}}
          ]
        },
        {
          "width": 300, "height": 255,
          "title": {"text": "(d) W doped and PureLNO from Ryuet al.[39].", "orient": "bottom", "anchor": "middle", "offset": 5},
          "layer": [
            {"data": {"name": "rings"}, "mark": {"type": "point", "shape": "circle", "filled": false, "color": "#dedede", "strokeWidth": 0.7, "opacity": 1},
             "encoding": {"x": {"datum": 0, "type": "quantitative", "scale": {"domain": [-1.275, 1.667], "nice": false, "zero": false}, "axis": null}, "y": {"datum": 0, "type": "quantitative", "scale": {"domain": [-1.245, 1.255], "nice": false, "zero": false}, "axis": null}, "size": {"field": "ring", "type": "quantitative", "scale": {"type": "pow", "exponent": 2, "domain": [0, 9], "range": [0, 41616]}, "legend": null}}},
            {"data": {"name": "outer"}, "mark": {"type": "point", "shape": "circle", "filled": false, "color": "#8c8c8c", "strokeWidth": 1, "opacity": 1},
             "encoding": {"x": {"datum": 0, "type": "quantitative", "scale": {"domain": [-1.275, 1.667], "nice": false, "zero": false}, "axis": null}, "y": {"datum": 0, "type": "quantitative", "scale": {"domain": [-1.245, 1.255], "nice": false, "zero": false}, "axis": null}, "size": {"field": "ring", "type": "quantitative", "scale": {"type": "pow", "exponent": 2, "domain": [0, 9], "range": [0, 41616]}, "legend": null}}},
            {"data": {"name": "pts_d"},
             "transform": [{"lookup": "axis", "from": {"data": {"name": "axes_d"}, "key": "axis", "fields": ["k", "lo", "hi"]}}, {"calculate": "(datum.value - datum.lo) / (datum.hi - datum.lo)", "as": "r"}, {"calculate": "datum.r * sin(datum.k * PI / 3)", "as": "px"}, {"calculate": "datum.r * cos(datum.k * PI / 3)", "as": "py"}],
             "mark": {"type": "line", "interpolate": "linear-closed", "filled": true, "fillOpacity": 0.2, "strokeWidth": 0},
             "encoding": {"x": {"field": "px", "type": "quantitative", "scale": {"domain": [-1.275, 1.667], "nice": false, "zero": false}, "axis": null}, "y": {"field": "py", "type": "quantitative", "scale": {"domain": [-1.245, 1.255], "nice": false, "zero": false}, "axis": null}, "order": {"field": "k", "type": "quantitative"}, "color": {"field": "series", "type": "nominal", "scale": {"domain": ["Ryu-PureLNO", "W1LNO", "W1.5LNO", "W2LNO"], "range": ["#6b4a8c", "#e6b3e6", "#c98bd4", "#d64fe8"]}, "legend": {"title": null, "orient": "none", "legendX": 221, "legendY": 2}}}},
            {"data": {"name": "pts_d"},
             "transform": [{"lookup": "axis", "from": {"data": {"name": "axes_d"}, "key": "axis", "fields": ["k", "lo", "hi"]}}, {"calculate": "(datum.value - datum.lo) / (datum.hi - datum.lo)", "as": "r"}, {"calculate": "datum.r * sin(datum.k * PI / 3)", "as": "px"}, {"calculate": "datum.r * cos(datum.k * PI / 3)", "as": "py"}],
             "mark": {"type": "line", "interpolate": "linear-closed", "strokeWidth": 1},
             "encoding": {"x": {"field": "px", "type": "quantitative", "scale": {"domain": [-1.275, 1.667], "nice": false, "zero": false}, "axis": null}, "y": {"field": "py", "type": "quantitative", "scale": {"domain": [-1.245, 1.255], "nice": false, "zero": false}, "axis": null}, "order": {"field": "k", "type": "quantitative"}, "color": {"field": "series", "type": "nominal", "scale": {"domain": ["Ryu-PureLNO", "W1LNO", "W1.5LNO", "W2LNO"], "range": ["#6b4a8c", "#e6b3e6", "#c98bd4", "#d64fe8"]}, "legend": {"title": null, "orient": "none", "legendX": 221, "legendY": 2}}}},
            {"data": {"name": "axes_d"},
             "transform": [{"calculate": "(datum.ref - datum.lo) / (datum.hi - datum.lo)", "as": "r"}, {"calculate": "datum.r * sin(datum.k * PI / 3)", "as": "ex"}, {"calculate": "datum.r * cos(datum.k * PI / 3)", "as": "ey"}, {"calculate": "0", "as": "o"}],
             "mark": {"type": "rule", "color": "#1e1e1e", "strokeWidth": 1.1},
             "encoding": {"x": {"field": "o", "type": "quantitative", "scale": {"domain": [-1.275, 1.667], "nice": false, "zero": false}, "axis": null}, "y": {"field": "o", "type": "quantitative", "scale": {"domain": [-1.245, 1.255], "nice": false, "zero": false}, "axis": null}, "x2": {"field": "ex"}, "y2": {"field": "ey"}}},
            {"data": {"name": "pts_d"},
             "transform": [{"lookup": "axis", "from": {"data": {"name": "axes_d"}, "key": "axis", "fields": ["k", "lo", "hi"]}}, {"calculate": "(datum.value - datum.lo) / (datum.hi - datum.lo)", "as": "r"}, {"calculate": "datum.r * sin(datum.k * PI / 3)", "as": "px"}, {"calculate": "datum.r * cos(datum.k * PI / 3)", "as": "py"}, {"calculate": "length(datum.label)", "as": "n"}],
             "mark": {"type": "point", "filled": true, "color": "white", "opacity": 0.92, "size": 256, "strokeWidth": 0},
             "encoding": {"x": {"field": "px", "type": "quantitative", "scale": {"domain": [-1.275, 1.667], "nice": false, "zero": false}, "axis": null}, "y": {"field": "py", "type": "quantitative", "scale": {"domain": [-1.245, 1.255], "nice": false, "zero": false}, "axis": null}, "shape": {"field": "n", "type": "nominal", "scale": {"domain": [3, 4, 5, 6], "range": ["M-0.82,-0.45H0.82V0.45H-0.82Z", "M-0.93,-0.45H0.93V0.45H-0.93Z", "M-1.15,-0.45H1.15V0.45H-1.15Z", "M-1.37,-0.45H1.37V0.45H-1.37Z"]}, "legend": null}}},
            {"data": {"name": "pts_d"},
             "transform": [{"lookup": "axis", "from": {"data": {"name": "axes_d"}, "key": "axis", "fields": ["k", "lo", "hi"]}}, {"calculate": "(datum.value - datum.lo) / (datum.hi - datum.lo)", "as": "r"}, {"calculate": "datum.r * sin(datum.k * PI / 3)", "as": "px"}, {"calculate": "datum.r * cos(datum.k * PI / 3)", "as": "py"}],
             "mark": {"type": "text", "fontSize": 5.5, "baseline": "middle", "align": "center"},
             "encoding": {"x": {"field": "px", "type": "quantitative", "scale": {"domain": [-1.275, 1.667], "nice": false, "zero": false}, "axis": null}, "y": {"field": "py", "type": "quantitative", "scale": {"domain": [-1.245, 1.255], "nice": false, "zero": false}, "axis": null}, "text": {"field": "label"}, "color": {"field": "series", "type": "nominal", "scale": {"domain": ["Ryu-PureLNO", "W1LNO", "W1.5LNO", "W2LNO"], "range": ["#6b4a8c", "#e6b3e6", "#c98bd4", "#d64fe8"]}, "legend": {"title": null, "orient": "none", "legendX": 221, "legendY": 2}}}},
            {"data": {"name": "bestpos"},
             "transform": [{"calculate": "0.955 * sin(datum.pos * PI / 180)", "as": "bx"}, {"calculate": "0.955 * cos(datum.pos * PI / 180)", "as": "by"}, {"calculate": "datum.pos > 90 && datum.pos < 270 ? datum.pos - 180 : datum.pos", "as": "rot"}],
             "mark": {"type": "text", "fontSize": 5.5, "color": "#333333", "baseline": "middle", "align": "center"},
             "encoding": {"x": {"field": "bx", "type": "quantitative", "scale": {"domain": [-1.275, 1.667], "nice": false, "zero": false}, "axis": null}, "y": {"field": "by", "type": "quantitative", "scale": {"domain": [-1.245, 1.255], "nice": false, "zero": false}, "axis": null}, "text": {"field": "txt"}, "angle": {"field": "rot", "type": "quantitative", "scale": null}}},
            {"data": {"name": "axes_d"},
             "transform": [{"calculate": "datum.k == 0 ? 1.17 : (datum.k == 3 ? 1.18 : (datum.k < 3 ? 1.32 : 1.24))", "as": "rt"}, {"calculate": "datum.rt * sin(datum.k * PI / 3)", "as": "tx"}, {"calculate": "datum.rt * cos(datum.k * PI / 3)", "as": "ty"}],
             "mark": {"type": "text", "fontSize": 7.8, "lineBreak": "\n", "lineHeight": 9.5, "dy": -4.75, "baseline": "middle", "align": "center", "color": "#111111"},
             "encoding": {"x": {"field": "tx", "type": "quantitative", "scale": {"domain": [-1.275, 1.667], "nice": false, "zero": false}, "axis": null}, "y": {"field": "ty", "type": "quantitative", "scale": {"domain": [-1.245, 1.255], "nice": false, "zero": false}, "axis": null}, "text": {"field": "title"}}}
          ]
        }
      ]
    },
    {
      "spacing": 0,
      "resolve": {"scale": {"color": "independent"}, "legend": {"color": "independent"}},
      "hconcat": [
        {
          "width": 300, "height": 255,
          "title": {"text": "(e) Zr doped and PureLNO from Yoonet al.[37].", "orient": "bottom", "anchor": "middle", "offset": 7},
          "layer": [
            {"data": {"name": "rings"}, "mark": {"type": "point", "shape": "circle", "filled": false, "color": "#dedede", "strokeWidth": 0.7, "opacity": 1},
             "encoding": {"x": {"datum": 0, "type": "quantitative", "scale": {"domain": [-1.245, 1.696], "nice": false, "zero": false}, "axis": null}, "y": {"datum": 0, "type": "quantitative", "scale": {"domain": [-1.157, 1.343], "nice": false, "zero": false}, "axis": null}, "size": {"field": "ring", "type": "quantitative", "scale": {"type": "pow", "exponent": 2, "domain": [0, 9], "range": [0, 41616]}, "legend": null}}},
            {"data": {"name": "outer"}, "mark": {"type": "point", "shape": "circle", "filled": false, "color": "#8c8c8c", "strokeWidth": 1, "opacity": 1},
             "encoding": {"x": {"datum": 0, "type": "quantitative", "scale": {"domain": [-1.245, 1.696], "nice": false, "zero": false}, "axis": null}, "y": {"datum": 0, "type": "quantitative", "scale": {"domain": [-1.157, 1.343], "nice": false, "zero": false}, "axis": null}, "size": {"field": "ring", "type": "quantitative", "scale": {"type": "pow", "exponent": 2, "domain": [0, 9], "range": [0, 41616]}, "legend": null}}},
            {"data": {"name": "pts_e"},
             "transform": [{"lookup": "axis", "from": {"data": {"name": "axes_e"}, "key": "axis", "fields": ["k", "lo", "hi"]}}, {"calculate": "(datum.value - datum.lo) / (datum.hi - datum.lo)", "as": "r"}, {"calculate": "datum.r * sin(datum.k * PI / 3)", "as": "px"}, {"calculate": "datum.r * cos(datum.k * PI / 3)", "as": "py"}],
             "mark": {"type": "line", "interpolate": "linear-closed", "filled": true, "fillOpacity": 0.18, "strokeWidth": 0},
             "encoding": {"x": {"field": "px", "type": "quantitative", "scale": {"domain": [-1.245, 1.696], "nice": false, "zero": false}, "axis": null}, "y": {"field": "py", "type": "quantitative", "scale": {"domain": [-1.157, 1.343], "nice": false, "zero": false}, "axis": null}, "order": {"field": "k", "type": "quantitative"}, "color": {"field": "series", "type": "nominal", "scale": {"domain": ["Yoon-Pure LNO", "Zr-dope LNO"], "range": ["#e04848", "#f2a3b3"]}, "legend": {"title": null, "orient": "none", "legendX": 213, "legendY": 13}}}},
            {"data": {"name": "pts_e"},
             "transform": [{"lookup": "axis", "from": {"data": {"name": "axes_e"}, "key": "axis", "fields": ["k", "lo", "hi"]}}, {"calculate": "(datum.value - datum.lo) / (datum.hi - datum.lo)", "as": "r"}, {"calculate": "datum.r * sin(datum.k * PI / 3)", "as": "px"}, {"calculate": "datum.r * cos(datum.k * PI / 3)", "as": "py"}],
             "mark": {"type": "line", "interpolate": "linear-closed", "strokeWidth": 1},
             "encoding": {"x": {"field": "px", "type": "quantitative", "scale": {"domain": [-1.245, 1.696], "nice": false, "zero": false}, "axis": null}, "y": {"field": "py", "type": "quantitative", "scale": {"domain": [-1.157, 1.343], "nice": false, "zero": false}, "axis": null}, "order": {"field": "k", "type": "quantitative"}, "color": {"field": "series", "type": "nominal", "scale": {"domain": ["Yoon-Pure LNO", "Zr-dope LNO"], "range": ["#e04848", "#f2a3b3"]}, "legend": {"title": null, "orient": "none", "legendX": 213, "legendY": 13}}}},
            {"data": {"name": "axes_e"},
             "transform": [{"calculate": "(datum.ref - datum.lo) / (datum.hi - datum.lo)", "as": "r"}, {"calculate": "datum.r * sin(datum.k * PI / 3)", "as": "ex"}, {"calculate": "datum.r * cos(datum.k * PI / 3)", "as": "ey"}, {"calculate": "0", "as": "o"}],
             "mark": {"type": "rule", "color": "#1e1e1e", "strokeWidth": 1.1},
             "encoding": {"x": {"field": "o", "type": "quantitative", "scale": {"domain": [-1.245, 1.696], "nice": false, "zero": false}, "axis": null}, "y": {"field": "o", "type": "quantitative", "scale": {"domain": [-1.157, 1.343], "nice": false, "zero": false}, "axis": null}, "x2": {"field": "ex"}, "y2": {"field": "ey"}}},
            {"data": {"name": "pts_e"},
             "transform": [{"lookup": "axis", "from": {"data": {"name": "axes_e"}, "key": "axis", "fields": ["k", "lo", "hi"]}}, {"calculate": "(datum.value - datum.lo) / (datum.hi - datum.lo)", "as": "r"}, {"calculate": "datum.r * sin(datum.k * PI / 3)", "as": "px"}, {"calculate": "datum.r * cos(datum.k * PI / 3)", "as": "py"}, {"calculate": "length(datum.label)", "as": "n"}],
             "mark": {"type": "point", "filled": true, "color": "white", "opacity": 0.92, "size": 256, "strokeWidth": 0},
             "encoding": {"x": {"field": "px", "type": "quantitative", "scale": {"domain": [-1.245, 1.696], "nice": false, "zero": false}, "axis": null}, "y": {"field": "py", "type": "quantitative", "scale": {"domain": [-1.157, 1.343], "nice": false, "zero": false}, "axis": null}, "shape": {"field": "n", "type": "nominal", "scale": {"domain": [3, 4, 5, 6], "range": ["M-0.82,-0.45H0.82V0.45H-0.82Z", "M-0.93,-0.45H0.93V0.45H-0.93Z", "M-1.15,-0.45H1.15V0.45H-1.15Z", "M-1.37,-0.45H1.37V0.45H-1.37Z"]}, "legend": null}}},
            {"data": {"name": "pts_e"},
             "transform": [{"lookup": "axis", "from": {"data": {"name": "axes_e"}, "key": "axis", "fields": ["k", "lo", "hi"]}}, {"calculate": "(datum.value - datum.lo) / (datum.hi - datum.lo)", "as": "r"}, {"calculate": "datum.r * sin(datum.k * PI / 3)", "as": "px"}, {"calculate": "datum.r * cos(datum.k * PI / 3)", "as": "py"}],
             "mark": {"type": "text", "fontSize": 5.5, "baseline": "middle", "align": "center"},
             "encoding": {"x": {"field": "px", "type": "quantitative", "scale": {"domain": [-1.245, 1.696], "nice": false, "zero": false}, "axis": null}, "y": {"field": "py", "type": "quantitative", "scale": {"domain": [-1.157, 1.343], "nice": false, "zero": false}, "axis": null}, "text": {"field": "label"}, "color": {"field": "series", "type": "nominal", "scale": {"domain": ["Yoon-Pure LNO", "Zr-dope LNO"], "range": ["#e04848", "#f2a3b3"]}, "legend": {"title": null, "orient": "none", "legendX": 213, "legendY": 13}}}},
            {"data": {"name": "bestpos"},
             "transform": [{"calculate": "0.955 * sin(datum.pos * PI / 180)", "as": "bx"}, {"calculate": "0.955 * cos(datum.pos * PI / 180)", "as": "by"}, {"calculate": "datum.pos > 90 && datum.pos < 270 ? datum.pos - 180 : datum.pos", "as": "rot"}],
             "mark": {"type": "text", "fontSize": 5.5, "color": "#333333", "baseline": "middle", "align": "center"},
             "encoding": {"x": {"field": "bx", "type": "quantitative", "scale": {"domain": [-1.245, 1.696], "nice": false, "zero": false}, "axis": null}, "y": {"field": "by", "type": "quantitative", "scale": {"domain": [-1.157, 1.343], "nice": false, "zero": false}, "axis": null}, "text": {"field": "txt"}, "angle": {"field": "rot", "type": "quantitative", "scale": null}}},
            {"data": {"name": "axes_e"},
             "transform": [{"calculate": "datum.k == 0 ? 1.15 : (datum.k == 3 ? 1.14 : (datum.k < 3 ? 1.27 : 1.24))", "as": "rt"}, {"calculate": "datum.rt * sin(datum.k * PI / 3)", "as": "tx"}, {"calculate": "datum.rt * cos(datum.k * PI / 3)", "as": "ty"}],
             "mark": {"type": "text", "fontSize": 7.8, "lineBreak": "\n", "lineHeight": 9.5, "dy": -4.75, "baseline": "middle", "align": "center", "color": "#111111"},
             "encoding": {"x": {"field": "tx", "type": "quantitative", "scale": {"domain": [-1.245, 1.696], "nice": false, "zero": false}, "axis": null}, "y": {"field": "ty", "type": "quantitative", "scale": {"domain": [-1.157, 1.343], "nice": false, "zero": false}, "axis": null}, "text": {"field": "title"}}}
          ]
        },
        {
          "width": 300, "height": 255,
          "title": {"text": ["(f) Y coated LNO and PureLNO from Zhanget", "al.[38]."], "orient": "bottom", "anchor": "start", "offset": 6, "dx": 4, "lineHeight": 15},
          "layer": [
            {"data": {"name": "rings"}, "mark": {"type": "point", "shape": "circle", "filled": false, "color": "#dedede", "strokeWidth": 0.7, "opacity": 1},
             "encoding": {"x": {"datum": 0, "type": "quantitative", "scale": {"domain": [-1.235, 1.706], "nice": false, "zero": false}, "axis": null}, "y": {"datum": 0, "type": "quantitative", "scale": {"domain": [-1.265, 1.235], "nice": false, "zero": false}, "axis": null}, "size": {"field": "ring", "type": "quantitative", "scale": {"type": "pow", "exponent": 2, "domain": [0, 9], "range": [0, 41616]}, "legend": null}}},
            {"data": {"name": "outer"}, "mark": {"type": "point", "shape": "circle", "filled": false, "color": "#8c8c8c", "strokeWidth": 1, "opacity": 1},
             "encoding": {"x": {"datum": 0, "type": "quantitative", "scale": {"domain": [-1.235, 1.706], "nice": false, "zero": false}, "axis": null}, "y": {"datum": 0, "type": "quantitative", "scale": {"domain": [-1.265, 1.235], "nice": false, "zero": false}, "axis": null}, "size": {"field": "ring", "type": "quantitative", "scale": {"type": "pow", "exponent": 2, "domain": [0, 9], "range": [0, 41616]}, "legend": null}}},
            {"data": {"name": "pts_f"},
             "transform": [{"lookup": "axis", "from": {"data": {"name": "axes_f"}, "key": "axis", "fields": ["k", "lo", "hi"]}}, {"calculate": "(datum.value - datum.lo) / (datum.hi - datum.lo)", "as": "r"}, {"calculate": "datum.r * sin(datum.k * PI / 3)", "as": "px"}, {"calculate": "datum.r * cos(datum.k * PI / 3)", "as": "py"}],
             "mark": {"type": "line", "interpolate": "linear-closed", "filled": true, "fillOpacity": 0.18, "strokeWidth": 0},
             "encoding": {"x": {"field": "px", "type": "quantitative", "scale": {"domain": [-1.235, 1.706], "nice": false, "zero": false}, "axis": null}, "y": {"field": "py", "type": "quantitative", "scale": {"domain": [-1.265, 1.235], "nice": false, "zero": false}, "axis": null}, "order": {"field": "k", "type": "quantitative"}, "color": {"field": "series", "type": "nominal", "scale": {"domain": ["Zhang-PureLNO", "3Y-LNO coat"], "range": ["#4a8a5a", "#4fd6a0"]}, "legend": {"title": null, "orient": "none", "legendX": 209, "legendY": 4}}}},
            {"data": {"name": "pts_f"},
             "transform": [{"lookup": "axis", "from": {"data": {"name": "axes_f"}, "key": "axis", "fields": ["k", "lo", "hi"]}}, {"calculate": "(datum.value - datum.lo) / (datum.hi - datum.lo)", "as": "r"}, {"calculate": "datum.r * sin(datum.k * PI / 3)", "as": "px"}, {"calculate": "datum.r * cos(datum.k * PI / 3)", "as": "py"}],
             "mark": {"type": "line", "interpolate": "linear-closed", "strokeWidth": 1},
             "encoding": {"x": {"field": "px", "type": "quantitative", "scale": {"domain": [-1.235, 1.706], "nice": false, "zero": false}, "axis": null}, "y": {"field": "py", "type": "quantitative", "scale": {"domain": [-1.265, 1.235], "nice": false, "zero": false}, "axis": null}, "order": {"field": "k", "type": "quantitative"}, "color": {"field": "series", "type": "nominal", "scale": {"domain": ["Zhang-PureLNO", "3Y-LNO coat"], "range": ["#4a8a5a", "#4fd6a0"]}, "legend": {"title": null, "orient": "none", "legendX": 209, "legendY": 4}}}},
            {"data": {"name": "axes_f"},
             "transform": [{"calculate": "(datum.ref - datum.lo) / (datum.hi - datum.lo)", "as": "r"}, {"calculate": "datum.r * sin(datum.k * PI / 3)", "as": "ex"}, {"calculate": "datum.r * cos(datum.k * PI / 3)", "as": "ey"}, {"calculate": "0", "as": "o"}],
             "mark": {"type": "rule", "color": "#1e1e1e", "strokeWidth": 1.1},
             "encoding": {"x": {"field": "o", "type": "quantitative", "scale": {"domain": [-1.235, 1.706], "nice": false, "zero": false}, "axis": null}, "y": {"field": "o", "type": "quantitative", "scale": {"domain": [-1.265, 1.235], "nice": false, "zero": false}, "axis": null}, "x2": {"field": "ex"}, "y2": {"field": "ey"}}},
            {"data": {"name": "pts_f"},
             "transform": [{"lookup": "axis", "from": {"data": {"name": "axes_f"}, "key": "axis", "fields": ["k", "lo", "hi"]}}, {"calculate": "(datum.value - datum.lo) / (datum.hi - datum.lo)", "as": "r"}, {"calculate": "datum.r * sin(datum.k * PI / 3)", "as": "px"}, {"calculate": "datum.r * cos(datum.k * PI / 3)", "as": "py"}, {"calculate": "length(datum.label)", "as": "n"}],
             "mark": {"type": "point", "filled": true, "color": "white", "opacity": 0.92, "size": 256, "strokeWidth": 0},
             "encoding": {"x": {"field": "px", "type": "quantitative", "scale": {"domain": [-1.235, 1.706], "nice": false, "zero": false}, "axis": null}, "y": {"field": "py", "type": "quantitative", "scale": {"domain": [-1.265, 1.235], "nice": false, "zero": false}, "axis": null}, "shape": {"field": "n", "type": "nominal", "scale": {"domain": [3, 4, 5, 6], "range": ["M-0.82,-0.45H0.82V0.45H-0.82Z", "M-0.93,-0.45H0.93V0.45H-0.93Z", "M-1.15,-0.45H1.15V0.45H-1.15Z", "M-1.37,-0.45H1.37V0.45H-1.37Z"]}, "legend": null}}},
            {"data": {"name": "pts_f"},
             "transform": [{"lookup": "axis", "from": {"data": {"name": "axes_f"}, "key": "axis", "fields": ["k", "lo", "hi"]}}, {"calculate": "(datum.value - datum.lo) / (datum.hi - datum.lo)", "as": "r"}, {"calculate": "datum.r * sin(datum.k * PI / 3)", "as": "px"}, {"calculate": "datum.r * cos(datum.k * PI / 3)", "as": "py"}],
             "mark": {"type": "text", "fontSize": 5.5, "baseline": "middle", "align": "center"},
             "encoding": {"x": {"field": "px", "type": "quantitative", "scale": {"domain": [-1.235, 1.706], "nice": false, "zero": false}, "axis": null}, "y": {"field": "py", "type": "quantitative", "scale": {"domain": [-1.265, 1.235], "nice": false, "zero": false}, "axis": null}, "text": {"field": "label"}, "color": {"field": "series", "type": "nominal", "scale": {"domain": ["Zhang-PureLNO", "3Y-LNO coat"], "range": ["#4a8a5a", "#4fd6a0"]}, "legend": {"title": null, "orient": "none", "legendX": 209, "legendY": 4}}}},
            {"data": {"name": "bestpos"},
             "transform": [{"calculate": "0.955 * sin(datum.pos * PI / 180)", "as": "bx"}, {"calculate": "0.955 * cos(datum.pos * PI / 180)", "as": "by"}, {"calculate": "datum.pos > 90 && datum.pos < 270 ? datum.pos - 180 : datum.pos", "as": "rot"}],
             "mark": {"type": "text", "fontSize": 5.5, "color": "#333333", "baseline": "middle", "align": "center"},
             "encoding": {"x": {"field": "bx", "type": "quantitative", "scale": {"domain": [-1.235, 1.706], "nice": false, "zero": false}, "axis": null}, "y": {"field": "by", "type": "quantitative", "scale": {"domain": [-1.265, 1.235], "nice": false, "zero": false}, "axis": null}, "text": {"field": "txt"}, "angle": {"field": "rot", "type": "quantitative", "scale": null}}},
            {"data": {"name": "axes_f"},
             "transform": [{"calculate": "datum.k == 0 ? 1.14 : (datum.k == 3 ? 1.14 : (datum.k < 3 ? 1.27 : 1.2))", "as": "rt"}, {"calculate": "datum.rt * sin(datum.k * PI / 3)", "as": "tx"}, {"calculate": "datum.rt * cos(datum.k * PI / 3)", "as": "ty"}],
             "mark": {"type": "text", "fontSize": 7.8, "lineBreak": "\n", "lineHeight": 9.5, "dy": -4.75, "baseline": "middle", "align": "center", "color": "#111111"},
             "encoding": {"x": {"field": "tx", "type": "quantitative", "scale": {"domain": [-1.235, 1.706], "nice": false, "zero": false}, "axis": null}, "y": {"field": "ty", "type": "quantitative", "scale": {"domain": [-1.265, 1.235], "nice": false, "zero": false}, "axis": null}, "text": {"field": "title"}}}
          ]
        }
      ]
    }
  ]
}
